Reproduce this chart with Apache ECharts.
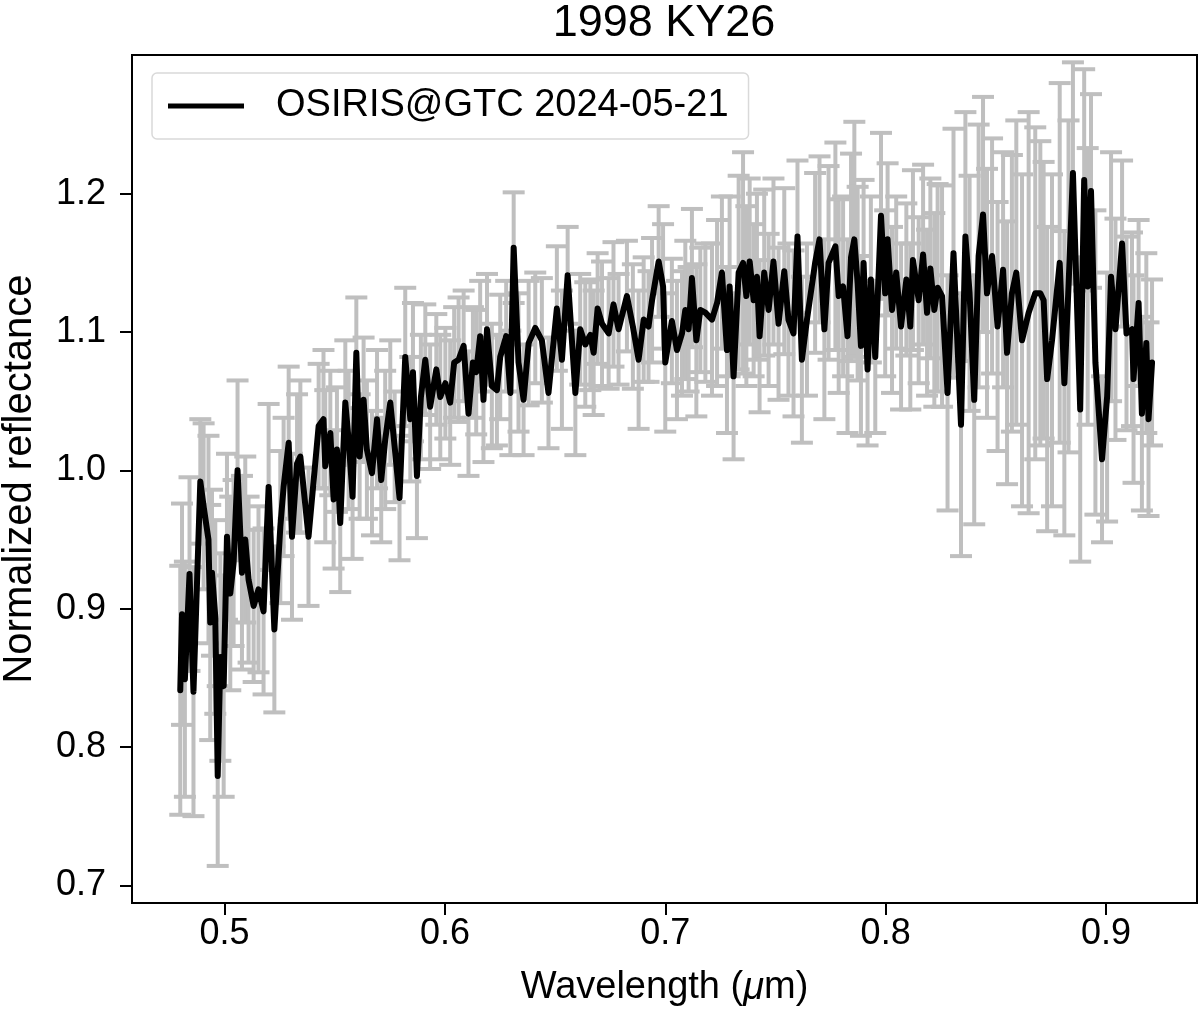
<!DOCTYPE html>
<html>
<head>
<meta charset="utf-8">
<title>1998 KY26</title>
<script src="https://cdn.jsdelivr.net/npm/echarts@6/dist/echarts.min.js"></script>
<style>
  html, body { margin: 0; padding: 0; background: #fff; }
  #chart { width: 1200px; height: 1017px; }
</style>
</head>
<body>
<div id="chart"></div>
<script>
// wavelength (µm)
const wavelength = [
  0.4799, 0.4807, 0.4820, 0.4841, 0.4859, 0.4890, 0.4905, 0.4927, 0.4935, 0.4943,
  0.4958, 0.4969, 0.4981, 0.4996, 0.5011, 0.5026, 0.5041, 0.5059, 0.5079, 0.5094,
  0.5109, 0.5132, 0.5154, 0.5177, 0.5200, 0.5226, 0.5253, 0.5268, 0.5291, 0.5306,
  0.5329,
  0.5344, 0.5381, 0.5427, 0.5449, 0.5457, 0.5480, 0.5495, 0.5510, 0.5525, 0.5548,
  0.5563, 0.5581, 0.5598, 0.5613, 0.5631, 0.5646, 0.5669, 0.5692, 0.5711, 0.5729,
  0.5752, 0.5772, 0.5794, 0.5820, 0.5843, 0.5855, 0.5873, 0.5891, 0.5911, 0.5933,
  0.5961, 0.5979, 0.6002, 0.6024, 0.6042, 0.6062, 0.6085, 0.6107, 0.6127, 0.6142,
  0.6160, 0.6175, 0.6191, 0.6213, 0.6236,
  0.6251, 0.6278, 0.6297, 0.6312, 0.6334, 0.6357, 0.6380, 0.6410, 0.6440, 0.6470,
  0.6508, 0.6531, 0.6557, 0.6592, 0.6614, 0.6637, 0.6660, 0.6675, 0.6693, 0.6713,
  0.6743, 0.6765, 0.6788, 0.6826, 0.6853, 0.6879, 0.6902, 0.6924, 0.6940, 0.6970,
  0.6990,
  0.7000, 0.7030, 0.7053, 0.7076, 0.7091, 0.7106, 0.7121, 0.7141, 0.7159, 0.7182,
  0.7212, 0.7235, 0.7257, 0.7280, 0.7292, 0.7310, 0.7333, 0.7353, 0.7368, 0.7383,
  0.7401, 0.7416, 0.7428, 0.7449, 0.7469, 0.7491, 0.7514, 0.7540, 0.7559, 0.7582,
  0.7600, 0.7620, 0.7643, 0.7680, 0.7700, 0.7722, 0.7741, 0.7772, 0.7787, 0.7807,
  0.7827, 0.7843, 0.7858, 0.7873, 0.7888, 0.7900, 0.7918, 0.7933, 0.7953, 0.7979,
  0.7998, 0.8009, 0.8029, 0.8048, 0.8070, 0.8094, 0.8112, 0.8124, 0.8150, 0.8170,
  0.8188, 0.8203, 0.8221, 0.8236, 0.8256, 0.8281, 0.8308, 0.8342, 0.8362, 0.8381,
  0.8402, 0.8422, 0.8442, 0.8460, 0.8483, 0.8508, 0.8533, 0.8551, 0.8573, 0.8593,
  0.8619, 0.8649, 0.8679, 0.8702, 0.8717, 0.8733, 0.8755, 0.8790, 0.8811, 0.8830,
  0.8850, 0.8883, 0.8901, 0.8917, 0.8932, 0.8952, 0.8982, 0.9005, 0.9023, 0.9043,
  0.9073, 0.9093, 0.9118, 0.9125, 0.9148, 0.9163, 0.9183, 0.9193, 0.9209
];

// normalized reflectance
const reflectance = [
  0.841, 0.896, 0.849, 0.925, 0.840, 0.992, 0.974, 0.950, 0.890, 0.926,
  0.894, 0.779, 0.865, 0.844, 0.952, 0.911, 0.933, 1.000, 0.926, 0.950,
  0.921, 0.902, 0.914, 0.898, 0.988, 0.885, 0.959, 0.988, 1.020, 0.952,
  1.005,
  1.010, 0.952, 1.032, 1.037, 1.003, 1.027, 0.979, 1.015, 0.962, 1.049,
  1.022, 0.981, 1.085, 1.010, 1.051, 1.015, 0.998, 1.037, 0.993, 1.022,
  1.049, 1.017, 0.980, 1.082, 1.037, 1.071, 0.996, 1.053, 1.080, 1.046,
  1.073, 1.053, 1.063, 1.049, 1.078, 1.080, 1.090, 1.041, 1.078, 1.071,
  1.097, 1.051, 1.102, 1.061, 1.058,
  1.082, 1.097, 1.056, 1.161, 1.078, 1.051, 1.092, 1.103, 1.094, 1.056,
  1.117, 1.080, 1.141, 1.056, 1.102, 1.091, 1.098, 1.085, 1.117, 1.106,
  1.099, 1.120, 1.102, 1.126, 1.104, 1.080, 1.109, 1.104, 1.123, 1.151,
  1.133,
  1.078, 1.108, 1.087, 1.099, 1.116, 1.102, 1.139, 1.094, 1.116, 1.114,
  1.109, 1.121, 1.143, 1.087, 1.133, 1.068, 1.143, 1.150, 1.126, 1.151,
  1.123, 1.140, 1.097, 1.143, 1.116, 1.151, 1.106, 1.144, 1.109, 1.099,
  1.169, 1.080, 1.109, 1.150, 1.167, 1.102, 1.150, 1.162, 1.126, 1.133,
  1.097, 1.154, 1.167, 1.135, 1.090, 1.150, 1.073, 1.138, 1.082, 1.184,
  1.128, 1.167, 1.116, 1.143, 1.104, 1.138, 1.104, 1.152, 1.123, 1.156,
  1.114, 1.146, 1.116, 1.132, 1.126, 1.056, 1.157, 1.033, 1.169, 1.128,
  1.051, 1.155, 1.185, 1.128, 1.155, 1.104, 1.145, 1.085, 1.128, 1.143,
  1.094, 1.114, 1.128, 1.128, 1.123, 1.066, 1.094, 1.150, 1.063, 1.133,
  1.215, 1.044, 1.210, 1.133, 1.202, 1.078, 1.008, 1.053, 1.140, 1.102,
  1.164, 1.099, 1.102, 1.066, 1.121, 1.041, 1.092, 1.037, 1.078
];

// 1-sigma uncertainty
const reflErr = [
  0.090, 0.080, 0.085, 0.070, 0.090, 0.045, 0.060, 0.075, 0.085, 0.060,
  0.070, 0.065, 0.075, 0.080, 0.060, 0.070, 0.060, 0.065, 0.070, 0.060,
  0.060, 0.055, 0.060, 0.060, 0.060, 0.060, 0.055, 0.050, 0.055, 0.060,
  0.050,
  0.055, 0.050, 0.045, 0.050, 0.055, 0.045, 0.050, 0.045, 0.050, 0.045,
  0.050, 0.045, 0.040, 0.045, 0.045, 0.050, 0.045, 0.050, 0.045, 0.050,
  0.045, 0.040, 0.045, 0.050, 0.045, 0.050, 0.045, 0.045, 0.040, 0.045,
  0.040, 0.045, 0.040, 0.045, 0.040, 0.045, 0.040, 0.045, 0.040, 0.045,
  0.040, 0.045, 0.040, 0.045, 0.040,
  0.045, 0.040, 0.045, 0.040, 0.050, 0.040, 0.045, 0.040, 0.045, 0.040,
  0.045, 0.050, 0.035, 0.045, 0.040, 0.045, 0.040, 0.045, 0.040, 0.045,
  0.040, 0.045, 0.040, 0.040, 0.045, 0.050, 0.045, 0.040, 0.045, 0.040,
  0.045,
  0.050, 0.045, 0.050, 0.045, 0.050, 0.045, 0.050, 0.055, 0.045, 0.050,
  0.055, 0.060, 0.055, 0.060, 0.065, 0.060, 0.070, 0.080, 0.065, 0.060,
  0.055, 0.060, 0.055, 0.060, 0.055, 0.060, 0.055, 0.060, 0.055, 0.060,
  0.055, 0.060, 0.055, 0.065, 0.060, 0.065, 0.070, 0.075, 0.070, 0.065,
  0.070, 0.075, 0.085, 0.070, 0.065, 0.060, 0.055, 0.060, 0.055, 0.060,
  0.060, 0.055, 0.060, 0.055, 0.060, 0.055, 0.060, 0.065, 0.060, 0.065,
  0.060, 0.065, 0.070, 0.075, 0.080, 0.085, 0.090, 0.095, 0.090, 0.085,
  0.090, 0.095, 0.085, 0.090, 0.085, 0.090, 0.085, 0.095, 0.100, 0.110,
  0.120, 0.145, 0.120, 0.110, 0.100, 0.110, 0.120, 0.130, 0.110, 0.120,
  0.080, 0.110, 0.080, 0.100, 0.070, 0.110, 0.060, 0.090, 0.090, 0.080,
  0.060, 0.070, 0.070, 0.075, 0.060, 0.070, 0.065, 0.070, 0.060
];

const xTicks = [0.5, 0.6, 0.7, 0.8, 0.9];
const yTicks = [0.7, 0.8, 0.9, 1.0, 1.1, 1.2];

const lineData = wavelength.map((w, i) => [w, reflectance[i]]);
const errData = wavelength.map((w, i) => [w, reflectance[i] - reflErr[i], reflectance[i] + reflErr[i]]);

const font = 'Liberation Sans, Arial, Helvetica, sans-serif';
const capHalf = 11;

// vertical error bar with caps, drawn through the axes
function renderErr(params, api) {
  const x = api.value(0);
  const lo = api.coord([x, api.value(1)]);
  const hi = api.coord([x, api.value(2)]);
  const style = { stroke: '#bfbfbf', lineWidth: 4, fill: null };
  return {
    type: 'group',
    children: [
      { type: 'line', shape: { x1: lo[0], y1: lo[1], x2: hi[0], y2: hi[1] }, style: style },
      { type: 'line', shape: { x1: lo[0] - capHalf, y1: lo[1], x2: lo[0] + capHalf, y2: lo[1] }, style: style },
      { type: 'line', shape: { x1: hi[0] - capHalf, y1: hi[1], x2: hi[0] + capHalf, y2: hi[1] }, style: style }
    ]
  };
}

const chart = echarts.init(document.getElementById('chart'));
chart.setOption({
  animation: false,
  backgroundColor: '#fff',
  textStyle: { fontFamily: font },
  graphic: [
    {
      type: 'text', x: 664, y: 1,
      style: { text: '1998 KY26', font: '45px ' + font, fill: '#000', align: 'center', verticalAlign: 'top' }
    }
  ],
  legend: {
    left: 152, top: 73,
    padding: [14, 20, 14, 16],
    backgroundColor: 'rgba(255,255,255,0.8)',
    borderColor: '#d9d9d9', borderWidth: 1.5, borderRadius: 5,
    itemWidth: 76, itemHeight: 38,
    textStyle: { fontSize: 38, color: '#000', fontFamily: font, padding: [0, 0, 0, 27] },
    data: [{ name: 'OSIRIS@GTC 2024-05-21', icon: 'path://M0,0 L76,0 L76,5 L0,5 Z', itemStyle: { color: '#000' } }]
  },
  grid: {
    left: 132, right: 3, top: 55, bottom: 114,
    outerBoundsMode: 'none', containLabel: false,
    show: true, borderColor: '#000', borderWidth: 2, backgroundColor: 'transparent'
  },
  xAxis: {
    type: 'value', min: 0.458, max: 0.9413,
    name: 'Wavelength ({it|μ}m)', nameLocation: 'middle', nameGap: 66,
    nameTextStyle: { fontSize: 38, color: '#000', fontFamily: font, rich: { it: { fontSize: 38, fontStyle: 'italic', fontFamily: font } } },
    axisLine: { show: true, lineStyle: { color: '#000', width: 2 } },
    axisTick: { show: true, length: 12, lineStyle: { color: '#000', width: 2 }, customValues: xTicks },
    axisLabel: { fontSize: 36, color: '#000', margin: 13, customValues: xTicks, formatter: v => v.toFixed(1) },
    splitLine: { show: false }
  },
  yAxis: {
    type: 'value', min: 0.6872, max: 1.3003,
    name: 'Normalized reflectance', nameLocation: 'middle', nameGap: 92, nameRotate: 90,
    nameTextStyle: { fontSize: 40, color: '#000', fontFamily: font },
    axisLine: { show: true, lineStyle: { color: '#000', width: 2 } },
    axisTick: { show: true, length: 12, lineStyle: { color: '#000', width: 2 }, customValues: yTicks },
    axisLabel: { fontSize: 36, color: '#000', margin: 26, customValues: yTicks, formatter: v => v.toFixed(1) },
    splitLine: { show: false }
  },
  series: [
    {
      name: 'errors', type: 'custom', renderItem: renderErr,
      data: errData, encode: { x: 0, y: [1, 2] }, z: 1, silent: true
    },
    {
      name: 'OSIRIS@GTC 2024-05-21', type: 'line', data: lineData,
      showSymbol: false, symbol: 'none', z: 2,
      lineStyle: { color: '#000', width: 6, join: 'round', cap: 'round' },
      itemStyle: { color: '#000' }
    }
  ]
});
</script>
</body>
</html>
